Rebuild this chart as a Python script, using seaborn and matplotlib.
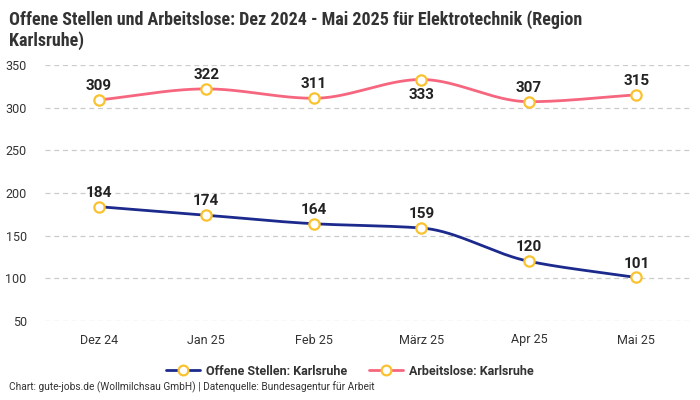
import matplotlib
matplotlib.use("Agg")
import matplotlib.pyplot as plt
from matplotlib.lines import Line2D
import seaborn as sns
import numpy as np
import pandas as pd

months = ["Dez 24", "Jan 25", "Feb 25", "März 25", "Apr 25", "Mai 25"]
offene_stellen = [184, 174, 164, 159, 120, 101]
arbeitslose = [309, 322, 311, 333, 307, 315]
label_below_arbeitslose = [False, False, False, True, False, False]

BLUE = "#1b2a8c"
PINK = "#f7667f"
MARKER = "#f9c22e"
CONDENSED = ["Roboto Condensed", "Liberation Sans Narrow", "Roboto", "DejaVu Sans"]


def monotone_curve(y, n=40):
    # monotone cubic (like d3 curveMonotoneX), only for drawing the smooth line
    y = np.asarray(y, dtype=float)
    x = np.arange(len(y), dtype=float)
    d = np.diff(y)
    m = np.zeros(len(y))
    for i in range(1, len(y) - 1):
        if d[i - 1] * d[i] > 0:
            m[i] = 2 / (1 / d[i - 1] + 1 / d[i])
    m[0] = d[0]
    m[-1] = d[-1]
    xs, ys = [], []
    for i in range(len(y) - 1):
        t = np.linspace(0, 1, n)
        h00 = 2 * t**3 - 3 * t**2 + 1
        h10 = t**3 - 2 * t**2 + t
        h01 = -2 * t**3 + 3 * t**2
        h11 = t**3 - t**2
        xs.append(x[i] + t)
        ys.append(h00 * y[i] + h10 * m[i] + h01 * y[i + 1] + h11 * m[i + 1])
    return np.concatenate(xs), np.concatenate(ys)


sns.set_theme(style="white")
plt.rcParams["font.family"] = ["Roboto", "DejaVu Sans"]

df = pd.DataFrame({
    "x": list(range(len(months))) * 2,
    "wert": offene_stellen + arbeitslose,
    "serie": ["Offene Stellen: Karlsruhe"] * len(months) + ["Arbeitslose: Karlsruhe"] * len(months),
})

fig = plt.figure(figsize=(7, 4), dpi=100)
ax = fig.add_axes([0.064, 0.1975, 0.922, 0.64])

for vals, color in [(offene_stellen, BLUE), (arbeitslose, PINK)]:
    cx, cy = monotone_curve(vals)
    ax.plot(cx, cy, color=color, lw=2, zorder=2)

sns.scatterplot(data=df, x="x", y="wert", ax=ax, s=55, color="white",
                edgecolor=MARKER, linewidth=1.6, zorder=3, legend=False, clip_on=False)

for i, v in enumerate(offene_stellen):
    ax.annotate(str(v), (i, v), xytext=(0, 5), textcoords="offset points",
                ha="center", va="bottom", fontsize=11, fontweight="bold", color="#222222")
for i, v in enumerate(arbeitslose):
    below = label_below_arbeitslose[i]
    ax.annotate(str(v), (i, v), xytext=(0, -6 if below else 5), textcoords="offset points",
                ha="center", va="top" if below else "bottom",
                fontsize=11, fontweight="bold", color="#222222")

ax.set_xlim(-0.5, 5.5)
ax.set_ylim(50, 350)
ax.set_yticks(range(50, 351, 50))
ax.set_xticks(range(len(months)))
ax.set_xticklabels(months)
ax.grid(axis="y", color="#cccccc", linestyle=(0, (4, 3)), linewidth=0.9)
ax.grid(axis="x", visible=False)
for s in ax.spines.values():
    s.set_visible(False)
ax.tick_params(axis="y", length=0, pad=13, labelsize=9, labelcolor="#333333")
ax.tick_params(axis="x", length=0, pad=9, labelsize=9, labelcolor="#333333")
ax.set_xlabel("")
ax.set_ylabel("")

fig.text(0.013, 0.975, "Offene Stellen und Arbeitslose: Dez 2024 - Mai 2025 für Elektrotechnik (Region\nKarlsruhe)",
         ha="left", va="top", fontsize=13, fontweight="bold", color="#333333", linespacing=1.2,
         family=CONDENSED)

handles = [
    Line2D([0], [0], color=BLUE, lw=2, marker="o", markersize=7, markerfacecolor="white",
           markeredgecolor=MARKER, markeredgewidth=1.6),
    Line2D([0], [0], color=PINK, lw=2, marker="o", markersize=7, markerfacecolor="white",
           markeredgecolor=MARKER, markeredgewidth=1.6),
]
leg = fig.legend(handles, ["Offene Stellen: Karlsruhe", "Arbeitslose: Karlsruhe"],
                 loc="center", bbox_to_anchor=(0.5, 0.072), ncol=2, frameon=False,
                 handlelength=2.7, handletextpad=0.5, columnspacing=1.7, fontsize=9)
for t in leg.get_texts():
    t.set_fontweight("bold")
    t.set_color("#333333")

fig.text(0.013, 0.018, "Chart: gute-jobs.de (Wollmilchsau GmbH) | Datenquelle: Bundesagentur für Arbeit",
         ha="left", va="bottom", fontsize=7.3, color="#333333")

fig.savefig("out.png", dpi=100)
plt.close(fig)
